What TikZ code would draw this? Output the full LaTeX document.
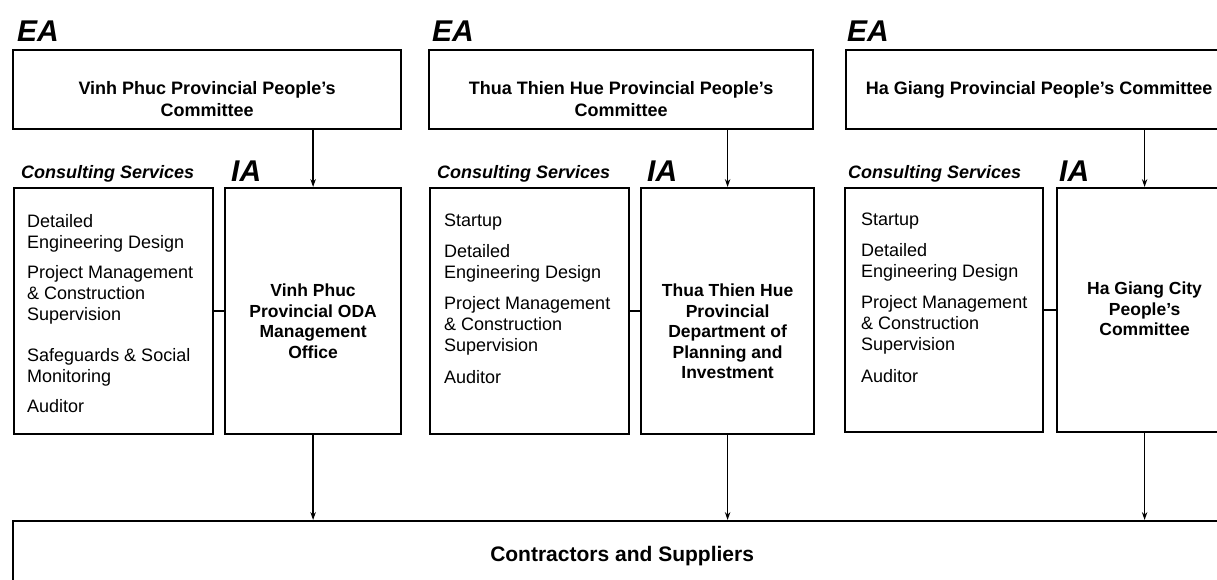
\documentclass[tikz,border=0pt]{standalone}
\usepackage{fontspec}
\setmainfont{Liberation Sans}
\usepackage{tikz}
\usetikzlibrary{arrows.meta, positioning}

\begin{document}
\begin{tikzpicture}[x=1pt, y=-1pt,
    box/.style={draw, line width=2.2pt, inner sep=0pt, anchor=north west},
    eatext/.style={font=\bfseries\fontsize{18}{22}\selectfont, align=center, anchor=north, inner sep=0pt},
    iatext/.style={font=\bfseries\fontsize{17.5}{20.5}\selectfont, align=center, anchor=north, inner sep=0pt},
    cstext/.style={font=\fontsize{18}{21}\selectfont, align=left, anchor=north west, inner sep=0pt},
    tag/.style={font=\bfseries\itshape\fontsize{30}{30}\selectfont, anchor=base west, inner sep=0pt},
    cslabel/.style={font=\bfseries\itshape\fontsize{18}{20}\selectfont, anchor=base west, inner sep=0pt},
    arr/.style={-{Stealth[length=8pt,width=5.5pt]}, line width=1.5pt},
    link/.style={line width=2pt}]
    \useasboundingbox (0,0) rectangle (1217,579);

    % executing agencies
    \node[box, minimum width=388pt, minimum height=79pt] (ea1) at (12,49) {};
    \node[box, minimum width=384pt, minimum height=79pt] (ea2) at (428,49) {};
    \node[box, minimum width=386pt, minimum height=79pt] (ea3) at (845,49) {};
    \node[eatext] (ea1t) at ([yshift=-32pt]ea1.north) {Vinh Phuc Provincial People's\\Committee};
    \node[eatext] (ea2t) at ([yshift=-32pt]ea2.north) {Thua Thien Hue Provincial People's\\Committee};
    \node[eatext] (ea3t) at ([yshift=-32pt]ea3.north) {Ha Giang Provincial People's Committee};
    \node[tag] (ea1l) at ([xshift=5pt, yshift=8pt]ea1.north west) {EA};
    \node[tag] (ea2l) at ([xshift=4pt, yshift=8pt]ea2.north west) {EA};
    \node[tag] (ea3l) at ([xshift=2pt, yshift=8pt]ea3.north west) {EA};

    % consulting services
    \node[box, minimum width=199pt, minimum height=246pt] (cs1) at (13,187) {};
    \node[box, minimum width=199pt, minimum height=246pt] (cs2) at (429,187) {};
    \node[box, minimum width=198pt, minimum height=244pt] (cs3) at (844,187) {};
    \node[cslabel] (cs1l) at ([xshift=8pt, yshift=9pt]cs1.north west) {Consulting Services};
    \node[cslabel] (cs2l) at ([xshift=8pt, yshift=9pt]cs2.north west) {Consulting Services};
    \node[cslabel] (cs3l) at ([xshift=4pt, yshift=9pt]cs3.north west) {Consulting Services};
    \node[cstext] (cs1t) at ([xshift=14pt, yshift=-27pt]cs1.north west)
        {Detailed\\Engineering Design\\[9pt]Project Management\\\& Construction\\Supervision\\[20pt]Safeguards \& Social\\Monitoring\\[9pt]Auditor};
    \node[cstext] (cs2t) at ([xshift=15pt, yshift=-27pt]cs2.north west)
        {Startup\\[10pt]Detailed\\Engineering Design\\[10pt]Project Management\\\& Construction\\Supervision\\[11pt]Auditor};
    \node[cstext] (cs3t) at ([xshift=17pt, yshift=-26pt]cs3.north west)
        {Startup\\[10pt]Detailed\\Engineering Design\\[10pt]Project Management\\\& Construction\\Supervision\\[11pt]Auditor};

    % implementing agencies
    \node[box, minimum width=176pt, minimum height=246pt] (ia1) at (224,187) {};
    \node[box, minimum width=173pt, minimum height=246pt] (ia2) at (640,187) {};
    \node[box, minimum width=175pt, minimum height=244pt] (ia3) at (1056,187) {};
    \node[iatext] (ia1t) at ([yshift=-97pt]ia1.north) {Vinh Phuc\\Provincial ODA\\Management\\Office};
    \node[iatext] (ia2t) at ([yshift=-97pt]ia2.north) {Thua Thien Hue\\Provincial\\Department of\\Planning and\\Investment};
    \node[iatext] (ia3t) at ([yshift=-95pt]ia3.north) {Ha Giang City\\People's\\Committee};
    \node[tag] (ia1l) at ([xshift=7pt, yshift=6pt]ia1.north west) {IA};
    \node[tag] (ia2l) at ([xshift=7pt, yshift=6pt]ia2.north west) {IA};
    \node[tag] (ia3l) at ([xshift=3pt, yshift=6pt]ia3.north west) {IA};

    % contractors
    \node[box, minimum width=1218pt, minimum height=70pt,
          font=\bfseries\fontsize{21}{24}\selectfont] (sup) at (12,520) {Contractors and Suppliers};

    % connectors
    \foreach \i in {1,2,3} {
        \draw[arr] (ea\i.south -| ia\i.north) -- (ia\i.north);
        \draw[link] (cs\i.east |- ia\i.west) -- (ia\i.west);
        \draw[arr] (ia\i.south) -- (ia\i.south |- sup.north);
    }
\end{tikzpicture}
\end{document}
